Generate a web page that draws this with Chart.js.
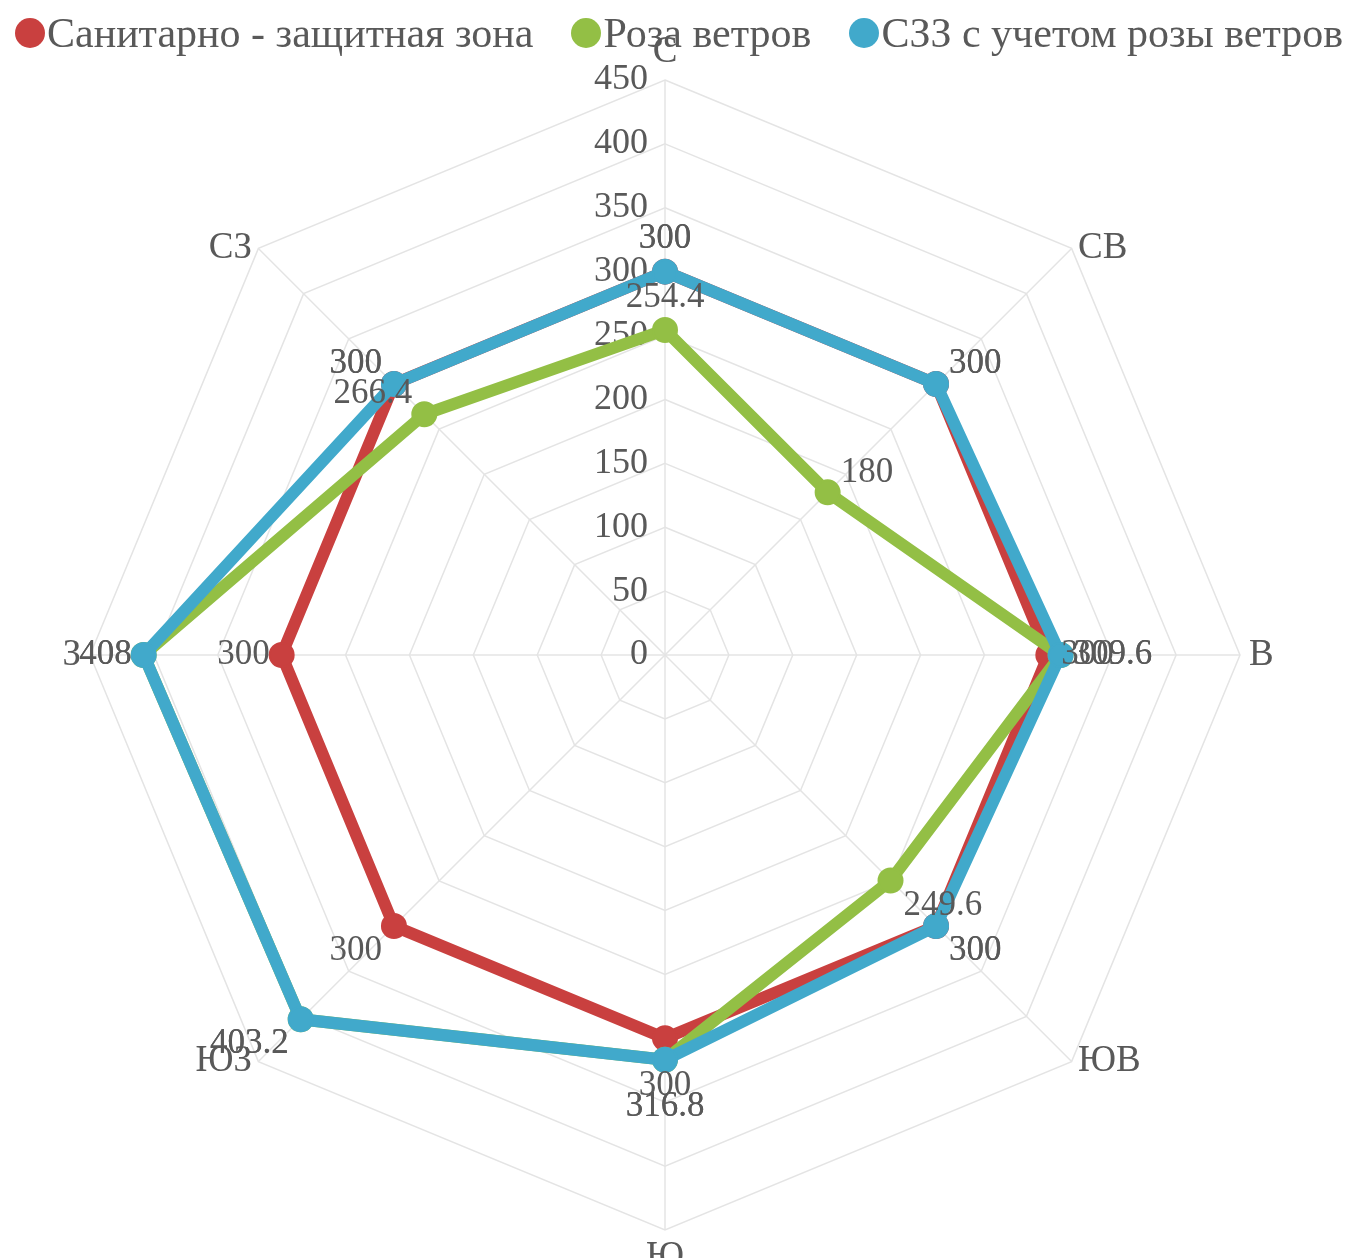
<!DOCTYPE html>
<html>
<head>
<meta charset="utf-8">
<script src="https://cdn.jsdelivr.net/npm/chart.js@4/dist/chart.umd.min.js"></script>
<style>
  html, body { margin: 0; padding: 0; background: #ffffff; }
  #wrap { position: relative; width: 1354px; height: 1258px; }
  canvas { display: block; position: absolute; left: 0; top: 0; }
  #legend { position: absolute; left: 15px; top: 12px; display: flex; align-items: center; white-space: nowrap; z-index: 2; }
  .lg-item { display: flex; align-items: center; margin-right: 38px; }
  .lg-dot { width: 30px; height: 30px; border-radius: 50%; margin-right: 2px; flex: none; }
  .lg-text { font-family: "Liberation Serif", "Times New Roman", serif; font-size: 42px; line-height: 42px; color: #595959; }
</style>
</head>
<body>
<div id="wrap">
  <canvas id="c" width="1354" height="1258"></canvas>
  <div id="legend"></div>
</div>
<script>
const categories = ['С', 'СВ', 'В', 'ЮВ', 'Ю', 'ЮЗ', 'З', 'СЗ'];
const seriesNames = ['Санитарно - защитная зона', 'Роза ветров', 'СЗЗ с учетом розы ветров'];
const szzValues = [300, 300, 300, 300, 300, 300, 300, 300];
const windRoseValues = [254.4, 180, 309.6, 249.6, 316.8, 403.2, 408, 266.4];
const szzWindValues = [300, 300, 309.6, 300, 316.8, 403.2, 408, 300];
const tickValues = [0, 50, 100, 150, 200, 250, 300, 350, 400, 450];

const colors = ['#C9403F', '#93BF45', '#41A9CB'];
const TEXT = '#595959';
const FONT = '"Liberation Serif", "Times New Roman", serif';

function fmt(v) { return String(v); }

const htmlLegendPlugin = {
  id: 'htmlLegend',
  afterUpdate(chart) {
    const box = document.getElementById('legend');
    box.innerHTML = '';
    const items = chart.options.plugins.legend.labels.generateLabels(chart)
      .sort((a, b) => a.datasetIndex - b.datasetIndex);
    items.forEach(item => {
      const el = document.createElement('div');
      el.className = 'lg-item';
      const dot = document.createElement('span');
      dot.className = 'lg-dot';
      dot.style.background = item.fillStyle;
      const txt = document.createElement('span');
      txt.className = 'lg-text';
      txt.textContent = item.text;
      el.appendChild(dot);
      el.appendChild(txt);
      box.appendChild(el);
    });
  }
};

const textPlugin = {
  id: 'textPlugin',
  beforeDatasetsDraw(chart) {
    const s = chart.scales.r;
    const ctx = chart.ctx;
    ctx.save();
    ctx.fillStyle = TEXT;
    ctx.font = '36px ' + FONT;
    ctx.textAlign = 'right';
    ctx.textBaseline = 'middle';
    tickValues.forEach(v => {
      const d = s.getDistanceFromCenterForValue(v);
      ctx.fillText(fmt(v), s.xCenter - 17, s.yCenter - d);
    });
    ctx.font = '37px ' + FONT;
    categories.forEach((c, i) => {
      const p = s.getPointPosition(i, s.drawingArea + 9);
      const v = s.getPointPosition(i, s.drawingArea);
      const ang = p.angle;
      const cs = Math.cos(ang), sn = Math.sin(ang);
      let x = p.x, y = p.y;
      if (Math.abs(cs) < 0.1) {
        ctx.textAlign = 'center';
        ctx.textBaseline = sn < 0 ? 'bottom' : 'top';
      } else {
        ctx.textAlign = cs > 0 ? 'left' : 'right';
        ctx.textBaseline = 'middle';
        y = v.y;
      }
      ctx.fillText(c, x, y);
    });
    ctx.restore();
  },
  afterDatasetsDraw(chart) {
    const s = chart.scales.r;
    const ctx = chart.ctx;
    ctx.save();
    ctx.fillStyle = TEXT;
    ctx.font = '35px ' + FONT;
    chart.data.datasets.forEach((ds, di) => {
      const meta = chart.getDatasetMeta(di);
      meta.data.forEach((pt, i) => {
        const pp = s.getPointPosition(i, s.drawingArea);
        const ang = pp.angle;
        const cs = Math.cos(ang), sn = Math.sin(ang);
        let x = pt.x, y = pt.y;
        if (Math.abs(cs) < 0.1) {
          ctx.textAlign = 'center';
          if (sn < 0) { ctx.textBaseline = 'bottom'; y -= 15; }
          else { ctx.textBaseline = 'top'; y += 30; }
        } else {
          ctx.textAlign = cs > 0 ? 'left' : 'right';
          ctx.textBaseline = 'middle';
          x += cs > 0 ? 13 : -12;
          if (Math.abs(sn) > 0.1) y += sn > 0 ? 25 : -20;
        }
        ctx.fillText(fmt(ds.data[i]), x, y);
      });
    });
    ctx.restore();
  }
};

const series = [szzValues, windRoseValues, szzWindValues];
const datasets = series.map((vals, k) => ({
  label: seriesNames[k],
  data: vals,
  borderColor: colors[k],
  backgroundColor: colors[k],
  pointBackgroundColor: colors[k],
  pointBorderColor: colors[k],
  pointBorderWidth: 2,
  pointRadius: 12,
  borderWidth: 12,
  fill: false,
  tension: 0,
  order: 3 - k
}));

new Chart(document.getElementById('c'), {
  type: 'radar',
  data: { labels: categories, datasets },
  options: {
    responsive: false,
    animation: false,
    devicePixelRatio: 1,
    layout: { padding: { left: 90, right: 114, top: 80, bottom: 28 } },
    plugins: {
      legend: {
        display: false,
        labels: { usePointStyle: true, pointStyle: 'circle' }
      },
      tooltip: { enabled: false }
    },
    scales: {
      r: {
        min: 0,
        max: 450,
        ticks: { stepSize: 50, display: false },
        pointLabels: { display: false },
        grid: { color: '#e4e4e4', lineWidth: 1.5 },
        angleLines: { color: '#e4e4e4', lineWidth: 1.5 }
      }
    }
  },
  plugins: [htmlLegendPlugin, textPlugin]
});
</script>
</body>
</html>
